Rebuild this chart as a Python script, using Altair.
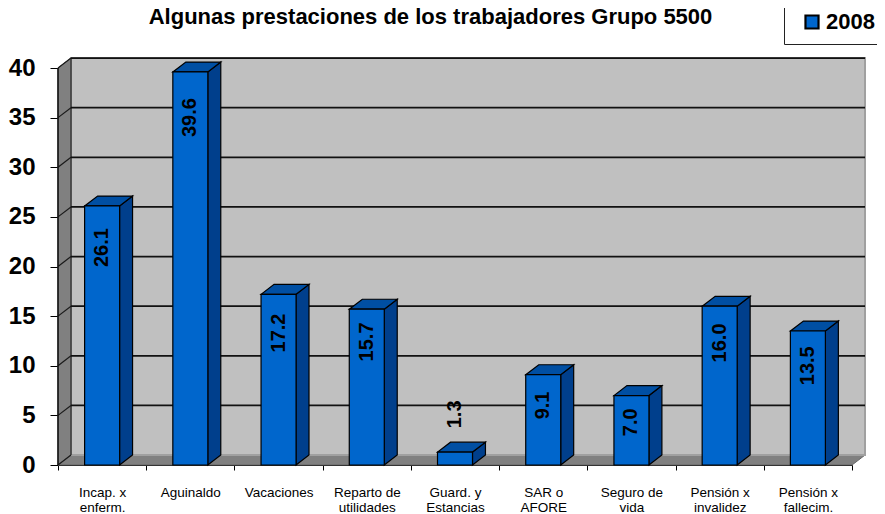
import altair as alt
import pandas as pd

categorias = ["Incap. x|enferm.", "Aguinaldo", "Vacaciones", "Reparto de|utilidades", "Guard. y|Estancias",
              "SAR o|AFORE", "Seguro de|vida", "Pensión x|invalidez", "Pensión x|fallecim."]
valores = [26.1, 39.6, 17.2, 15.7, 1.3, 9.1, 7.0, 16.0, 13.5]
etiquetas = ["26.1", "39.6", "17.2", "15.7", "1.3", "9.1", "7.0", "16.0", "13.5"]
altura_etiqueta = [21.9, 35.0, 13.3, 12.4, 5.1, 6.0, 4.3, 12.3, 10.0]
marcas_y = [0, 5, 10, 15, 20, 25, 30, 35, 40]
serie = "2008"
titulo = "Algunas prestaciones de los trabajadores Grupo 5500"

DX = 0.147    # depth of the 3-D box, in category units
DY = 1.0      # depth of the 3-D box, in value units
MITAD = 0.198 # half a bar, in category units
n = len(categorias)
XMAX = n + DX
YMAX = 41.008

x_q = lambda f="x": alt.X(f"{f}:Q", scale=alt.Scale(domain=[0, XMAX], nice=False, zero=False), axis=None)
y_q = lambda: alt.Y("y:Q", scale=alt.Scale(domain=[0, YMAX], nice=False, zero=True), title=None,
                    axis=alt.Axis(values=marcas_y, grid=False, domain=False, tickSize=8, tickColor="#000",
                                  labelFont="Liberation Sans", labelFontSize=24, labelFontWeight="bold",
                                  labelColor="#000", labelPadding=15))

def area(rows, **kw):
    return alt.Chart(pd.DataFrame(rows)).mark_area(**kw).encode(
        x=x_q(), y=y_q(), y2=alt.Y2("y2:Q"), detail=alt.Detail("g:N"))

# walls
pared_izq = area([dict(g=0, x=0, y=0, y2=40), dict(g=0, x=DX, y=DY, y2=40 + DY)],
                 fill="#808080", stroke="#555555", strokeWidth=1)
piso = area([dict(g=0, x=0, y=0, y2=0), dict(g=0, x=DX, y=0, y2=DY),
             dict(g=0, x=n, y=0, y2=DY), dict(g=0, x=XMAX, y=DY, y2=DY)],
            fill="#808080", stroke="#666666", strokeWidth=1)
fondo = alt.Chart(pd.DataFrame([dict(x=DX, x2=XMAX, y=DY, y2=40 + DY)])).mark_rect(
    fill="#C0C0C0", stroke="#A0A0A0", strokeWidth=2).encode(x=x_q(), x2=alt.X2("x2:Q"), y=y_q(), y2=alt.Y2("y2:Q"))

# gridlines on the back wall and on the left wall
rejilla_df = pd.DataFrame([dict(x=DX, x2=XMAX, y=v + DY) for v in marcas_y if v > 0])
rejilla = alt.Chart(rejilla_df).mark_rule(color="#111111", strokeWidth=1.8).encode(
    x=x_q(), x2=alt.X2("x2:Q"), y=y_q())
diag_rows = []
for v in marcas_y:
    diag_rows += [dict(g=v, x=0, y=v), dict(g=v, x=DX, y=v + DY)]
diagonales = alt.Chart(pd.DataFrame(diag_rows)).mark_line(color="#1a1a1a", strokeWidth=1.2).encode(
    x=x_q(), y=y_q(), detail=alt.Detail("g:N"))
eje_y = alt.Chart(pd.DataFrame([dict(x=0, y=0, y2=40)])).mark_rule(color="#111111", strokeWidth=1.5).encode(
    x=x_q(), y=y_q(), y2=alt.Y2("y2:Q"))
linea_fondo = alt.Chart(pd.DataFrame([dict(x=DX, y=DY, y2=40 + DY)])).mark_rule(color="#333333", strokeWidth=1.5).encode(
    x=x_q(), y=y_q(), y2=alt.Y2("y2:Q"))

# bar side and top faces
lado, tapa = [], []
for i, v in enumerate(valores):
    a, b = i + 0.5 - MITAD, i + 0.5 + MITAD
    lado += [dict(g=i, x=b, y=0, y2=v), dict(g=i, x=b + DX, y=DY, y2=v + DY)]
    tapa += [dict(g=i, x=a, y=v, y2=v), dict(g=i, x=a + DX, y=v, y2=v + DY),
             dict(g=i, x=b, y=v, y2=v + DY), dict(g=i, x=b + DX, y=v + DY, y2=v + DY)]
caras_lado = area(lado, fill="#003F8C", stroke="#000000", strokeWidth=1.2)
caras_tapa = area(tapa, fill="#004FA3", stroke="#000000", strokeWidth=1.2)

# front faces, on a band scale that carries the category axis and the legend
df = pd.DataFrame(dict(cat=categorias, y=valores, serie=serie))
frente = alt.Chart(df).mark_bar(size=35, stroke="#000000", strokeWidth=1.2).encode(
    x=alt.X("cat:N", sort=categorias, title=None,
            scale=alt.Scale(domain=categorias, range=[0, 794], paddingInner=0, paddingOuter=0),
            axis=alt.Axis(tickBand="extent", labelAngle=0, labelExpr="split(datum.label,'|')", domainColor="#000",
                          tickColor="#000", tickSize=5, labelPadding=15, labelFont="Liberation Sans",
                          labelFontSize=13.5, labelColor="#000", labelBaseline="top")),
    y=y_q(),
    color=alt.Color("serie:N", scale=alt.Scale(domain=[serie], range=["#0066CC"]),
                    legend=alt.Legend(orient="none", legendX=726, legendY=-58, title=" ", titleOrient="left",
                                      titlePadding=6, padding=11, fillColor="#FFFFFF", strokeColor="#222222",
                                      symbolType="square", symbolSize=170, symbolStrokeColor="#000",
                                      symbolStrokeWidth=2.2, labelFont="Liberation Sans", labelFontSize=22,
                                      labelFontWeight="bold", labelColor="#000", labelOffset=3)),
)

textos = alt.Chart(pd.DataFrame(dict(x=[i + 0.5 for i in range(n)], y=altura_etiqueta, t=etiquetas))).mark_text(
    angle=270, font="Liberation Sans", fontSize=20, fontWeight="bold", color="#000", align="center",
    baseline="middle").encode(x=x_q(), y=y_q(), text="t:N")

chart = alt.layer(pared_izq, piso, fondo, linea_fondo, rejilla, diagonales, eje_y, caras_lado, caras_tapa, frente, textos
    ).resolve_scale(x="independent").properties(
    width=807, height=407,
    autosize=alt.AutoSizeParams(type="none"),
    padding={"left": 50, "top": 50, "right": 12, "bottom": 49},
    title=alt.TitleParams(titulo, font="Liberation Sans", fontSize=22, fontWeight="bold", color="#000",
                          anchor="middle", dx=-31, offset=0, dy=29),
).configure_view(stroke=None)

chart.save("out.html", embed_options={"renderer": "svg", "actions": False})
